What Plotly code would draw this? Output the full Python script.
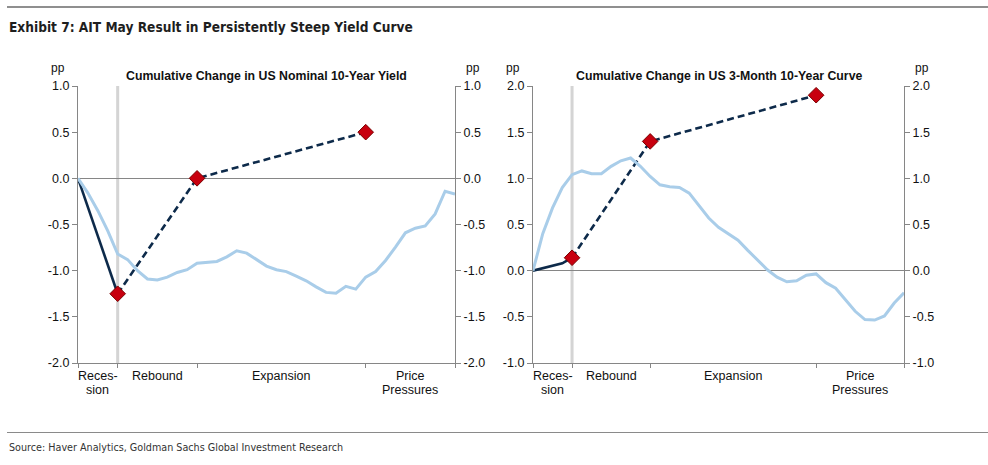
import plotly.graph_objects as go

# ---------------- data ----------------
quarters = list(range(39))                      # quarters since start of recession
phase_bounds = [0, 4, 12, 29, 38]               # phase boundaries (quarters)
phase_line1 = ["Reces-", "Rebound", "Expansion", "Price"]
phase_line2 = ["sion", "", "", "Pressures"]

# Left panel: cumulative change in US nominal 10-year yield (pp)
nominal_10y = [0.00, -0.16, -0.35, -0.57, -0.82, -0.88, -1.00, -1.09, -1.10, -1.07,
               -1.02, -0.99, -0.92, -0.91, -0.90, -0.85, -0.785, -0.81, -0.88, -0.95,
               -0.99, -1.01, -1.06, -1.11, -1.175, -1.235, -1.245, -1.17, -1.20, -1.07,
               -1.01, -0.89, -0.745, -0.59, -0.54, -0.515, -0.385, -0.14, -0.17]
# Stylised AIT path, left panel
ait_left_solid_x = [0, 4]
ait_left_solid_y = [0.0, -1.25]
ait_left_dash_x = [4, 12, 29]
ait_left_dash_y = [-1.25, 0.0, 0.5]

# Right panel: cumulative change in US 3-month/10-year curve (pp)
curve_3m10y = [0.00, 0.40, 0.68, 0.90, 1.04, 1.08, 1.05, 1.05, 1.13, 1.19,
               1.22, 1.13, 1.02, 0.93, 0.91, 0.90, 0.84, 0.70, 0.57, 0.47,
               0.40, 0.33, 0.22, 0.12, 0.01, -0.07, -0.12, -0.11, -0.05, -0.035,
               -0.13, -0.19, -0.32, -0.44, -0.53, -0.535, -0.49, -0.35, -0.24]
ait_right_solid_x = [0, 3, 4]
ait_right_solid_y = [0.0, 0.08, 0.14]
ait_right_dash_x = [4, 12, 29]
ait_right_dash_y = [0.14, 1.4, 1.9]

left_ticks = [-2.0, -1.5, -1.0, -0.5, 0.0, 0.5, 1.0]
left_ticktext = ["-2.0", "-1.5", "-1.0", "-0.5", "0.0", "0.5", "1.0"]
right_ticks = [-1.0, -0.5, 0.0, 0.5, 1.0, 1.5, 2.0]
right_ticktext = ["-1.0", "-0.5", "0.0", "0.5", "1.0", "1.5", "2.0"]

title_text = "Exhibit 7: AIT May Result in Persistently Steep Yield Curve"
left_title = "Cumulative Change in US Nominal 10-Year Yield"
right_title = "Cumulative Change in US 3-Month 10-Year Curve"
source_text = "Source: Haver Analytics, Goldman Sachs Global Investment Research"

# ---------------- style ----------------
W, H = 988, 465
NAVY = "#0d2a4a"
RED = "#c8000f"
BLUE = "#a9cde9"
GRAY = "#868686"
BAND = "#d4d4d4"
FONT = "Liberation Sans, Arial, sans-serif"
NARROW = "Liberation Sans Narrow, Arial Narrow, DejaVu Sans Condensed, sans-serif"

def px_x(p):
    return p / W

def px_y(p):
    return 1 - p / H

panels = [
    dict(xd=(78, 455), xa="x", ya="y", ya2="y2", blue=nominal_10y,
         sx=ait_left_solid_x, sy=ait_left_solid_y, dx=ait_left_dash_x, dy=ait_left_dash_y,
         ticks=left_ticks, ticktext=left_ticktext, rng=[-2, 1], title=left_title),
    dict(xd=(533, 904), xa="x2", ya="y3", ya2="y4", blue=curve_3m10y,
         sx=ait_right_solid_x, sy=ait_right_solid_y, dx=ait_right_dash_x, dy=ait_right_dash_y,
         ticks=right_ticks, ticktext=right_ticktext, rng=[-1, 2], title=right_title),
]

fig = go.Figure()
shapes = []
annotations = []
yd = (px_y(363), px_y(86))

for i, p in enumerate(panels):
    fig.add_trace(go.Scatter(x=quarters, y=p["blue"], mode="lines", xaxis=p["xa"], yaxis=p["ya2"],
                             line=dict(color=BLUE, width=3), hoverinfo="skip", showlegend=False))
    fig.add_trace(go.Scatter(x=p["sx"], y=p["sy"], mode="lines", xaxis=p["xa"], yaxis=p["ya"],
                             line=dict(color=NAVY, width=2.6), showlegend=False))
    fig.add_trace(go.Scatter(x=p["dx"], y=p["dy"], mode="lines+markers", xaxis=p["xa"], yaxis=p["ya"],
                             line=dict(color=NAVY, width=2.6, dash="7px,4px"),
                             marker=dict(symbol="diamond", size=12, color=RED,
                                         line=dict(color="#7a0000", width=1)),
                             showlegend=False))

    xkey = "xaxis" if i == 0 else "xaxis2"
    ykey = "yaxis" if i == 0 else "yaxis3"
    y2key = "yaxis2" if i == 0 else "yaxis4"
    tf = dict(family=FONT, size=12.5, color="#111")
    fig.update_layout(**{
        xkey: dict(domain=[px_x(p["xd"][0]), px_x(p["xd"][1])], range=[0, 38], anchor=p["ya"],
                   showline=True, linecolor=GRAY, linewidth=1.2, ticks="outside", tickvals=phase_bounds,
                   ticklen=4, tickcolor=GRAY, showticklabels=False, showgrid=False, zeroline=False,
                   automargin=False),
        ykey: dict(domain=list(yd), range=p["rng"], anchor=p["xa"], tickvals=p["ticks"],
                   ticktext=p["ticktext"], ticks="outside", ticklen=5, tickcolor=GRAY,
                   showline=True, linecolor=GRAY, linewidth=1.2, showgrid=False,
                   zeroline=True, zerolinecolor=GRAY, zerolinewidth=1, tickfont=tf, automargin=False),
        y2key: dict(overlaying=p["ya"], side="right", range=p["rng"], anchor=p["xa"],
                    tickvals=p["ticks"], ticktext=p["ticktext"], ticks="outside", ticklen=5,
                    tickcolor=GRAY, showline=True, linecolor=GRAY, linewidth=1.2, showgrid=False,
                    zeroline=False, tickfont=tf, automargin=False),
    })

    shapes.append(dict(type="line", xref=p["xa"], yref=p["ya"], x0=phase_bounds[1], x1=phase_bounds[1],
                       y0=p["rng"][0], y1=p["rng"][1], line=dict(color=BAND, width=3), layer="below"))

    x0, x1 = p["xd"]
    annotations.append(dict(text="<b>" + p["title"] + "</b>", xref="paper", yref="paper",
                            x=px_x((x0 + x1) / 2), y=px_y(76),
                            xanchor="center", yanchor="middle", showarrow=False,
                            font=dict(family=FONT, size=12.3, color="#111")))
    for xp in (x0 - 20, x1 + 18):
        annotations.append(dict(text="pp", xref="paper", yref="paper", x=px_x(xp), y=px_y(68),
                                xanchor="center", yanchor="middle", showarrow=False,
                                font=dict(family=FONT, size=12, color="#111")))
    for k in range(4):
        mid = (phase_bounds[k] + phase_bounds[k + 1]) / 2
        annotations.append(dict(text=phase_line1[k], xref=p["xa"], yref="paper", x=mid, y=px_y(376),
                                xanchor="center", yanchor="middle", showarrow=False,
                                font=dict(family=FONT, size=12.5, color="#111")))
        if phase_line2[k]:
            annotations.append(dict(text=phase_line2[k], xref=p["xa"], yref="paper", x=mid, y=px_y(389.5),
                                    xanchor="center", yanchor="middle", showarrow=False,
                                    font=dict(family=FONT, size=12.5, color="#111")))

shapes.append(dict(type="line", xref="paper", yref="paper", x0=px_x(7), x1=1, y0=px_y(7), y1=px_y(7),
                   line=dict(color="#6a6a6a", width=1.5)))
shapes.append(dict(type="line", xref="paper", yref="paper", x0=px_x(7), x1=1, y0=px_y(432.5), y1=px_y(432.5),
                   line=dict(color="#8a8a8a", width=1.2)))

annotations.append(dict(text="<b>" + title_text + "</b>", xref="paper", yref="paper", x=px_x(7), y=px_y(27),
                        xanchor="left", yanchor="middle", showarrow=False,
                        font=dict(family=NARROW, size=13.6, color="#1e1e1e")))
annotations.append(dict(text=source_text, xref="paper", yref="paper", x=px_x(7), y=px_y(447),
                        xanchor="left", yanchor="middle", showarrow=False,
                        font=dict(family=NARROW, size=10.7, color="#333")))

fig.update_layout(width=W, height=H, margin=dict(l=0, r=0, t=0, b=0, pad=0, autoexpand=False),
                  paper_bgcolor="white", plot_bgcolor="white",
                  shapes=shapes, annotations=annotations, showlegend=False,
                  font=dict(family=FONT))

fig.write_html("out.html", config={"displayModeBar": False},
               post_script="document.body.style.margin='0';document.body.style.overflow='hidden';")
